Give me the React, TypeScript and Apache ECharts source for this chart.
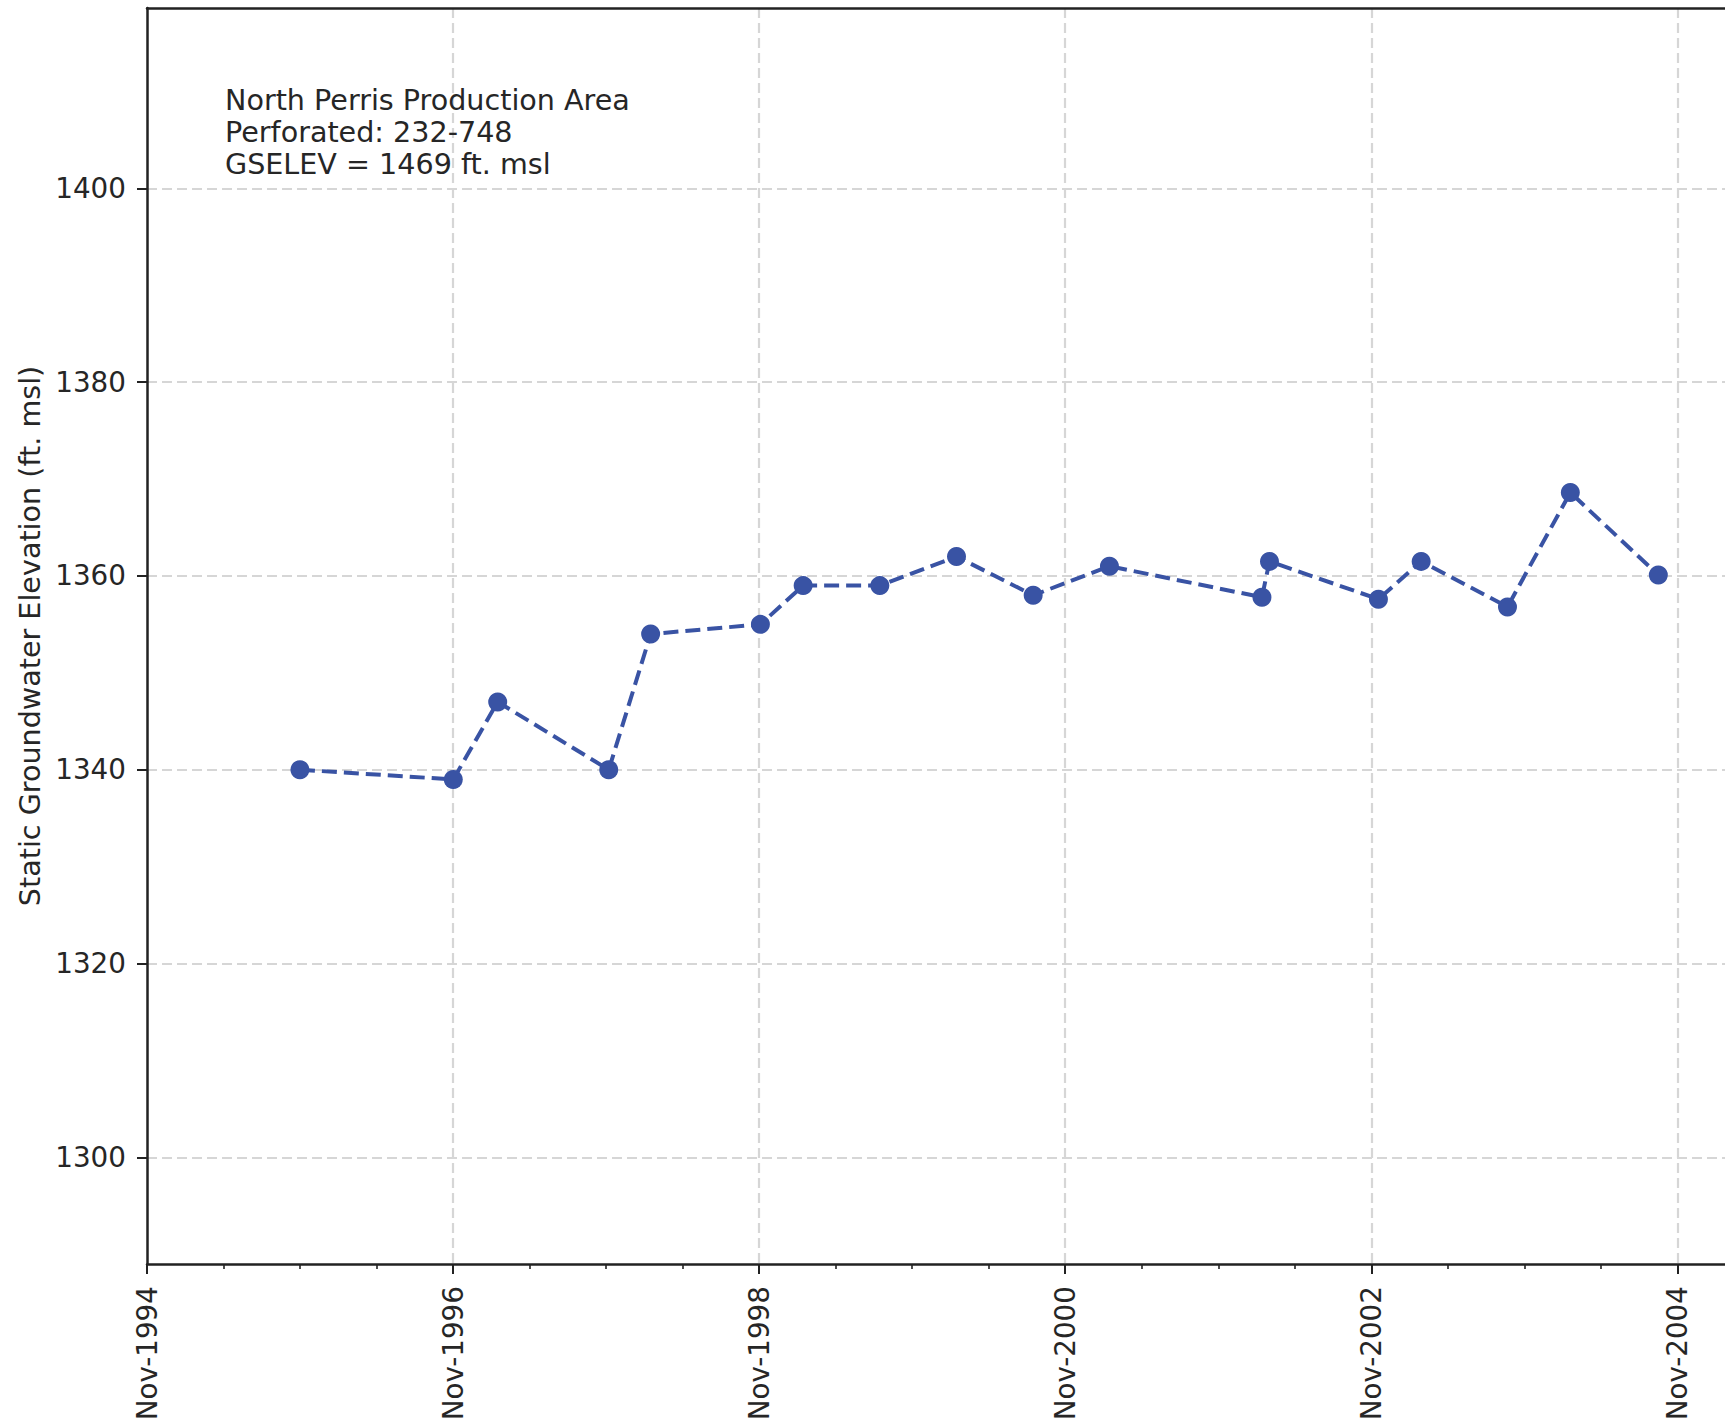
import React, { useEffect, useRef } from "react";
import * as echarts from "echarts";

// ---- data ----
const AXIS_START = "1994-11-01";
const sampleDates = [
  "1995-11-01", "1996-11-01", "1997-02-15", "1997-11-07", "1998-02-15",
  "1998-11-04", "1999-02-14", "1999-08-16", "2000-02-15", "2000-08-16",
  "2001-02-14", "2002-02-13", "2002-03-03", "2002-11-18", "2003-02-28",
  "2003-09-22", "2004-02-19", "2004-09-16",
];
const elevations = [
  1340.0, 1339.0, 1347.0, 1340.0, 1354.0,
  1355.0, 1359.0, 1359.0, 1362.0, 1358.0,
  1361.0, 1357.8, 1361.5, 1357.6, 1361.5,
  1356.8, 1368.6, 1360.1,
];
const xTickLabels = ["Nov-1994", "Nov-1996", "Nov-1998", "Nov-2000", "Nov-2002", "Nov-2004"];
const yTicks = [1300, 1320, 1340, 1360, 1380, 1400];
const annotationLines = [
  "North Perris Production Area",
  "Perforated: 232-748",
  "GSELEV = 1469 ft. msl",
];
const yAxisTitle = "Static Groundwater Elevation (ft. msl)";

const DAY = 86400000;
const toDays = (d: string) => (Date.parse(d + "T00:00:00Z") - Date.parse(AXIS_START + "T00:00:00Z")) / DAY;

const FONT = "DejaVu Sans";
const FS = 27.8;
const FS_TEXT = 28.6;
const TEXT = "#262626";
const BLUE = "#3953a4";

export default function App() {
  const ref = useRef<HTMLDivElement>(null);
  useEffect(() => {
    if (!ref.current) return;
    const chart = echarts.init(ref.current, undefined, { renderer: "svg" });
    const data = sampleDates.map((d, i) => [toDays(d), elevations[i]]);
    const xInterval = 730.5;
    const xMin = 0;
    const xMax = 3790;
    const labelFor = (v: number) => {
      const idx = Math.round(v / xInterval);
      return xTickLabels[idx] ?? "";
    };
    chart.setOption({
      animation: false,
      backgroundColor: "#ffffff",
      textStyle: { fontFamily: FONT },
      grid: {
        left: 147,
        top: 8,
        right: -10,
        bottom: 158,
        containLabel: false,
        outerBoundsMode: "none",
      },
      xAxis: [
        {
          type: "value",
          min: xMin,
          max: xMax,
          interval: xInterval,
          axisLine: { show: true, onZero: false, lineStyle: { color: "#222222", width: 2.5 } },
          axisTick: { show: true, length: 10, lineStyle: { color: "#222222", width: 2 } },
          minorTick: { show: true, splitNumber: 4, length: 5, lineStyle: { color: "#222222", width: 1.6 } },
          axisLabel: {
            show: true,
            rotate: 90,
            margin: 22,
            color: TEXT,
            fontFamily: FONT,
            fontSize: FS,
            showMaxLabel: false,
            formatter: (v: number) => labelFor(v),
          },
          splitLine: {
            show: true,
            showMinLine: false,
            showMaxLine: false,
            lineStyle: { color: "#d6d6d6", width: 2.2, type: [10, 5] },
          },
        },
        {
          type: "value",
          position: "top",
          min: xMin,
          max: xMax,
          axisLine: { show: true, onZero: false, lineStyle: { color: "#222222", width: 2.5 } },
          axisTick: { show: false },
          axisLabel: { show: false },
          splitLine: { show: false },
        },
      ],
      yAxis: {
        type: "value",
        min: 1289,
        max: 1418.6,
        splitNumber: 6,
        name: yAxisTitle,
        nameLocation: "middle",
        nameGap: 96,
        nameRotate: 90,
        nameTextStyle: { color: TEXT, fontFamily: FONT, fontSize: FS_TEXT },
        axisLine: { show: true, onZero: false, lineStyle: { color: "#222222", width: 2.5 } },
        axisTick: { show: true, length: 10, customValues: yTicks, lineStyle: { color: "#222222", width: 2 } },
        axisLabel: {
          show: true,
          margin: 21,
          color: TEXT,
          fontFamily: FONT,
          fontSize: FS,
          customValues: yTicks,
          formatter: (v: number) => String(v),
        },
        splitLine: {
          show: true,
          lineStyle: { color: "#d6d6d6", width: 2.2, type: [10, 5] },
        },
      },
      graphic: [
        {
          type: "text",
          left: 225,
          top: 84,
          z: 10,
          style: {
            text: annotationLines.join("\n"),
            fill: TEXT,
            font: `${FS_TEXT}px "${FONT}"`,
            fontFamily: FONT,
            fontSize: FS_TEXT,
            lineHeight: 32,
          },
        },
      ],
      series: [
        {
          type: "line",
          xAxisIndex: 0,
          data,
          symbol: "circle",
          symbolSize: 19,
          showSymbol: true,
          itemStyle: { color: BLUE, borderWidth: 0 },
          lineStyle: { color: BLUE, width: 4, type: [15, 7] },
          z: 5,
        },
      ],
    });
    return () => chart.dispose();
  }, []);
  return (
    <div
      ref={ref}
      style={{ position: "fixed", left: 0, top: 0, width: 1725, height: 1422, background: "#fff" }}
    />
  );
}
